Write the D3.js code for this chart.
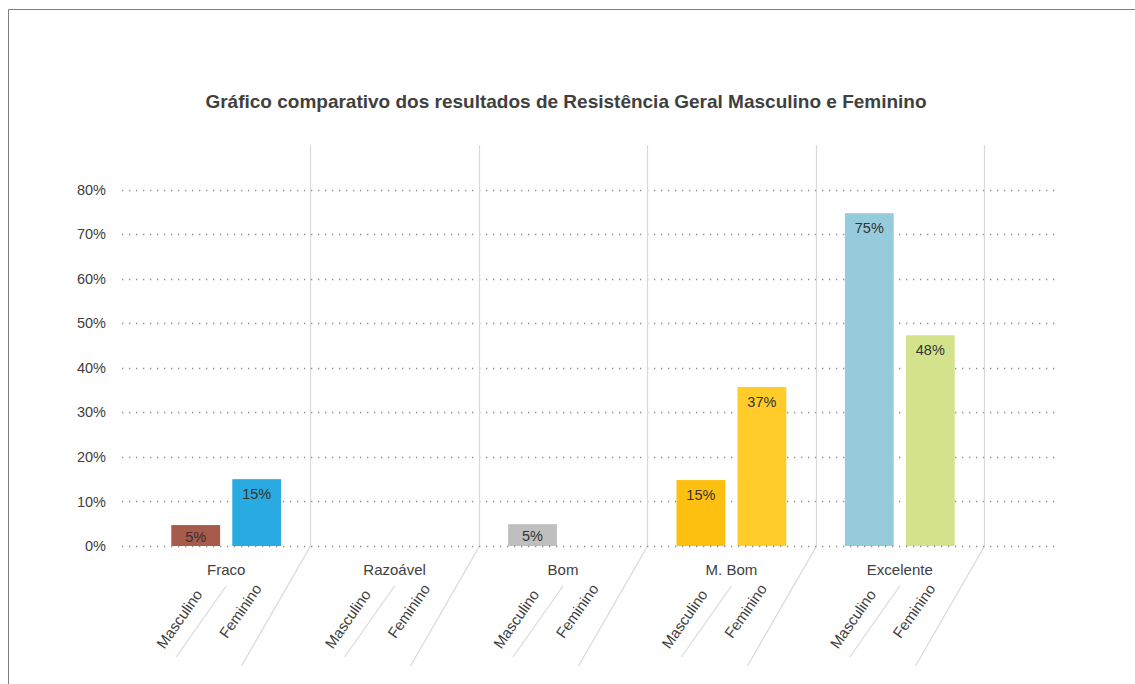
<!DOCTYPE html>
<html>
<head>
<meta charset="utf-8">
<script src="https://cdn.jsdelivr.net/npm/d3@7"></script>
<style>
	body { margin: 0; background: #fff; }
	svg { display: block; font-family: "Liberation Sans", Arial, sans-serif; }
</style>
</head>
<body>
<svg id="chart" width="1135" height="684"></svg>
<script>
// ---------- DATA ----------
const categories = ["Fraco", "Razoável", "Bom", "M. Bom", "Excelente"];
const series = ["Masculino", "Feminino"];
const masculino = [4.7, 0, 4.9, 14.8, 74.7];
const feminino = [15, 0, 0, 35.7, 47.3];
const masculinoLabels = ["5%", "", "5%", "15%", "75%"];
const femininoLabels = ["15%", "", "", "37%", "48%"];
const yTicks = [0, 10, 20, 30, 40, 50, 60, 70, 80];

// colours per bar (one per category)
const masculinoColors = ["#a65b4b", "#a65b4b", "#bfbfbf", "#fdc010", "#96cbdc"];
const femininoColors = ["#29abe2", "#29abe2", "#bfbfbf", "#ffcc29", "#d4e38b"];

const title = "Gráfico comparativo dos resultados de Resistência Geral Masculino e Feminino";

// ---------- LAYOUT ----------
const size = { w: 1135, h: 684 };
const plot = { left: 122, right: 1058, top: 145, bottom: 546 };
const textColor = "#404040";
const lineColor = "#d9d9d9";

const svg = d3.select("#chart");

// frame
svg.append("path")
	.attr("d", `M8.5,${size.h} V9.5 H${size.w}`)
	.attr("fill", "none")
	.attr("stroke", "#7f7f7f")
	.attr("stroke-width", 1);

svg.append("text")
	.attr("x", 566)
	.attr("y", 108)
	.attr("text-anchor", "middle")
	.attr("font-size", 19)
	.attr("font-weight", "bold")
	.attr("fill", textColor)
	.text(title);

// scales
const y = d3.scaleLinear().domain([0, 90]).range([plot.bottom, plot.top]);
const x0 = d3.scaleBand().domain(categories).range([142, 984]);
const x1 = d3.scaleBand()
	.domain(series)
	.range([x0.bandwidth() / 2 - 61, x0.bandwidth() / 2 + 61])
	.paddingInner(0.2)
	.paddingOuter(0.1);

const rows = categories.map((c, i) => ({
	category: c,
	values: [
		{ key: "Masculino", value: masculino[i], label: masculinoLabels[i], color: masculinoColors[i] },
		{ key: "Feminino", value: feminino[i], label: femininoLabels[i], color: femininoColors[i] },
	],
}));

// gridlines (dotted)
svg.append("g")
	.selectAll("line")
	.data(yTicks.filter((t) => t > 0))
	.join("line")
	.attr("x1", plot.left)
	.attr("x2", plot.right)
	.attr("y1", (d) => Math.round(y(d)) + 0.5)
	.attr("y2", (d) => Math.round(y(d)) + 0.5)
	.attr("stroke", "#8c8c8c")
	.attr("stroke-width", 1.3)
	.attr("stroke-dasharray", "1.3,5.7");

// y tick labels
svg.append("g")
	.selectAll("text")
	.data(yTicks)
	.join("text")
	.attr("x", 106)
	.attr("y", (d) => y(d))
	.attr("dy", "0.35em")
	.attr("text-anchor", "end")
	.attr("font-size", 14.5)
	.attr("fill", textColor)
	.text((d) => d + "%");

// category separators: vertical then slanted under the axis
svg.append("g")
	.selectAll("path")
	.data(categories)
	.join("path")
	.attr("d", (d) => {
		const xs = Math.round(x0(d) + x0.bandwidth()) + 0.5;
		return `M${xs},${plot.top} V${plot.bottom} L${xs - 69},666`;
	})
	.attr("fill", "none")
	.attr("stroke", lineColor)
	.attr("stroke-width", 1.2);

// sub separators between Masculino and Feminino
svg.append("g")
	.selectAll("line")
	.data(categories)
	.join("line")
	.attr("x1", (d) => x0(d) + x0.bandwidth() / 2)
	.attr("y1", 586)
	.attr("x2", (d) => x0(d) + x0.bandwidth() / 2 - 50)
	.attr("y2", 657)
	.attr("stroke", lineColor)
	.attr("stroke-width", 1.2);

// bars
const groups = svg.append("g")
	.selectAll("g")
	.data(rows)
	.join("g")
	.attr("transform", (d) => `translate(${x0(d.category)},0)`);

groups.selectAll("rect")
	.data((d) => d.values.filter((v) => v.value > 0))
	.join("rect")
	.attr("x", (d) => x1(d.key))
	.attr("y", (d) => y(d.value))
	.attr("width", x1.bandwidth())
	.attr("height", (d) => y(0) - y(d.value))
	.attr("fill", (d) => d.color);

groups.selectAll("text")
	.data((d) => d.values.filter((v) => v.label !== ""))
	.join("text")
	.attr("x", (d) => x1(d.key) + x1.bandwidth() / 2)
	.attr("y", (d) => Math.min(y(d.value) + 15, (y(d.value) + y(0)) / 2 + 1))
	.attr("dy", "0.35em")
	.attr("text-anchor", "middle")
	.attr("font-size", 14.5)
	.attr("fill", "#333")
	.text((d) => d.label);

// zero line over the bars
svg.append("line")
	.attr("x1", plot.left)
	.attr("x2", plot.right)
	.attr("y1", Math.round(y(0)) + 0.5)
	.attr("y2", Math.round(y(0)) + 0.5)
	.attr("stroke", "#8c8c8c")
	.attr("stroke-width", 1.3)
	.attr("stroke-dasharray", "1.3,5.7");

// category labels
svg.append("g")
	.selectAll("text")
	.data(categories)
	.join("text")
	.attr("x", (d) => x0(d) + x0.bandwidth() / 2)
	.attr("y", 575)
	.attr("text-anchor", "middle")
	.attr("font-size", 15)
	.attr("fill", textColor)
	.text((d) => d);

// rotated series labels
const subY = { Masculino: 622, Feminino: 614 };
svg.append("g")
	.selectAll("text")
	.data(categories.flatMap((c) => series.map((s) => ({ c, s }))))
	.join("text")
	.attr("transform", (d) => {
		const sx = x0(d.c) + x1(d.s) + x1.bandwidth() / 2 - 12;
		return `translate(${sx},${subY[d.s]}) rotate(-55)`;
	})
	.attr("text-anchor", "middle")
	.attr("font-size", 15)
	.attr("fill", textColor)
	.text((d) => d.s);
</script>
</body>
</html>
